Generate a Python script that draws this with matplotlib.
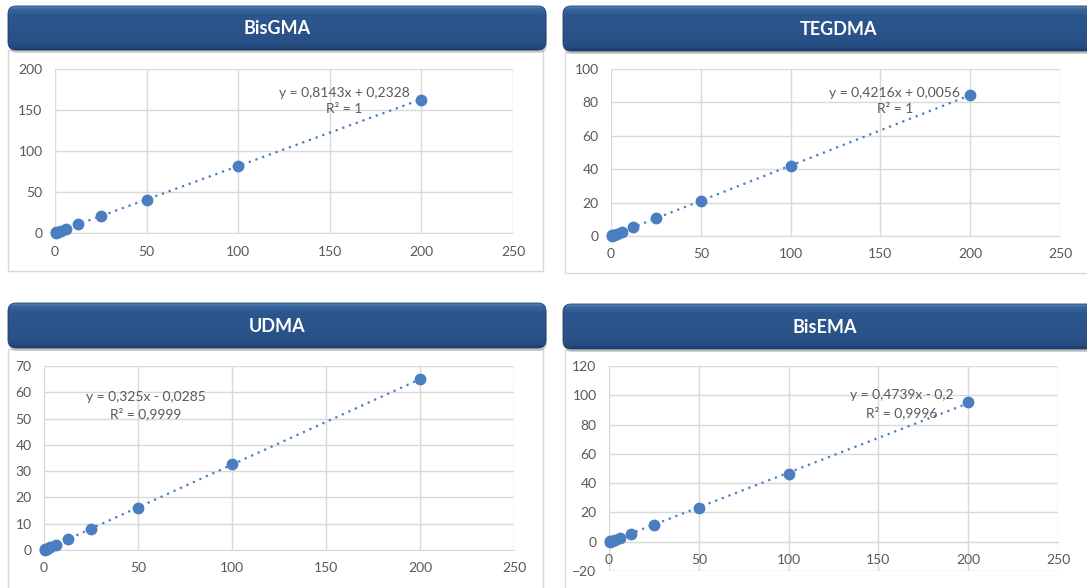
import numpy as np
import matplotlib
matplotlib.use("Agg")
import matplotlib.pyplot as plt
from matplotlib.patches import FancyBboxPatch, Rectangle

plt.rcParams['font.family'] = ['Lato', 'DejaVu Sans']

# concentration series shared by all four calibrations
conc = [0.39, 0.78, 1.56, 3.125, 6.25, 12.5, 25, 50, 100, 200]

titles = ["BisGMA", "TEGDMA", "UDMA", "BisEMA"]

area_bisgma = [0.5, 0.9, 1.5, 2.8, 5.3, 10.5, 20.6, 40.5, 81.5, 162.8]
area_tegdma = [0.2, 0.35, 0.7, 1.3, 2.6, 5.2, 10.6, 21.1, 42.0, 84.4]
area_udma = [0.1, 0.25, 0.5, 1.0, 2.0, 4.0, 8.1, 15.9, 32.6, 65.0]
area_bisema = [0.0, 0.3, 0.7, 1.4, 2.8, 5.2, 11.5, 23.0, 46.5, 95.3]

slopes = [0.8143, 0.4216, 0.325, 0.4739]
intercepts = [0.2328, 0.0056, -0.0285, -0.2]
r2_labels = ["1", "1", "0,9999", "0,9996"]

y_limits = [(0, 200), (0, 100), (0, 70), (-20, 120)]
y_steps = [50, 20, 10, 20]

W, H = 1087, 588
fig = plt.figure(figsize=(W / 100, H / 100), dpi=100)
fig.patch.set_facecolor("white")

# background layer in pixel units for the panel frames and header banners
bg = fig.add_axes([0, 0, 1, 1])
bg.set_axis_off()

panel_boxes = [(8, 50, 543, 271), (565, 52, 1100, 273),
               (8, 349, 543, 600), (565, 350, 1100, 600)]
banners = [(8, 6, 546, 50), (563, 6, 1115, 51),
           (8, 303, 546, 348), (563, 304, 1115, 349)]
title_x = [277, 839, 277, 825]

for x0, y0, x1, y1 in panel_boxes:
    bg.add_patch(Rectangle((x0, y0), x1 - x0, y1 - y0, facecolor="white",
                           edgecolor="#D9D9D9", lw=1.0, zorder=1))

# vertical shading for the banners
stops = np.array([0.0, 0.06, 0.2, 0.85, 0.95, 1.0])
cols = np.array([[0x5A, 0x84, 0xBA], [0x3A, 0x66, 0x9F], [0x2C, 0x57, 0x8E],
                 [0x27, 0x50, 0x86], [0x22, 0x47, 0x78], [0x1C, 0x3B, 0x66]]) / 255
t = np.linspace(0, 1, 60)
grad = np.stack([np.interp(t, stops, cols[:, k]) for k in range(3)], axis=1)
grad = grad[:, None, :]

for (x0, y0, x1, y1), tx, name in zip(banners, title_x, titles):
    shadow = FancyBboxPatch((x0 + 1, y0 + 3), x1 - x0, y1 - y0,
                            boxstyle="round,pad=0,rounding_size=8",
                            facecolor="#7F7F7F", edgecolor="none",
                            alpha=0.35, zorder=2)
    bg.add_patch(shadow)
    box = FancyBboxPatch((x0, y0), x1 - x0, y1 - y0,
                         boxstyle="round,pad=0,rounding_size=8",
                         facecolor="none", edgecolor="#1F3F6B", lw=0.6, zorder=4)
    bg.add_patch(box)
    im = bg.imshow(grad, extent=(x0, x1, y1, y0), aspect="auto", zorder=3,
                   interpolation="bilinear")
    im.set_clip_path(box)
    bg.text(tx, (y0 + y1) / 2 + 1, name, color="white", fontsize=13,
            fontweight="bold", ha="center", va="center", zorder=5)

bg.set_xlim(0, W)
bg.set_ylim(H, 0)

# plot areas in pixels: left, top, right, bottom
plot_rects = [(55, 69, 513, 233), (611, 69, 1060, 236),
              (44, 366, 514, 550), (609, 366, 1058, 571)]
eq_pos = [(158, 161), (158, 81), (54, 55), (163, 94)]

series = [area_bisgma, area_tegdma, area_udma, area_bisema]
blue = "#4A7EC0"
grid_c = "#D9D9D9"
txt_c = "#595959"

for i in range(4):
    l, t_, r, b = plot_rects[i]
    ax = fig.add_axes([l / W, 1 - b / H, (r - l) / W, (b - t_) / H])
    ax.set_facecolor("none")
    lo, hi = y_limits[i]
    ax.set_xlim(0, 250)
    ax.set_ylim(lo, hi)
    ax.set_xticks(np.arange(0, 251, 50))
    ax.set_yticks(np.arange(lo, hi + 1, y_steps[i]))
    ax.grid(True, color=grid_c, lw=1.0)
    ax.set_axisbelow(True)
    for s in ["top", "right", "left"]:
        ax.spines[s].set_visible(False)
    ax.spines["bottom"].set_position(("data", 0))
    ax.spines["bottom"].set_color(grid_c)
    ax.tick_params(length=0, pad=9, labelsize=10, colors=txt_c)

    xs = np.array([0, conc[-1]])
    ax.plot(xs, slopes[i] * xs + intercepts[i], color=blue, lw=1.6,
            linestyle=(0, (1, 2.2)), zorder=3, clip_on=False)
    ax.plot(conc, series[i], "o", color=blue, markersize=7.5, zorder=4,
            clip_on=False)

    sign = "+" if intercepts[i] >= 0 else "-"
    slope_s = f"{slopes[i]:g}".replace(".", ",")
    icpt_s = f"{abs(intercepts[i]):g}".replace(".", ",")
    label = f"y = {slope_s}x {sign} {icpt_s}\nR² = {r2_labels[i]}"
    ex, ey = eq_pos[i]
    ax.text(ex, ey, label, ha="center", va="center", fontsize=10,
            color=txt_c, linespacing=1.4, zorder=5)

fig.savefig("out.png", dpi=100)
